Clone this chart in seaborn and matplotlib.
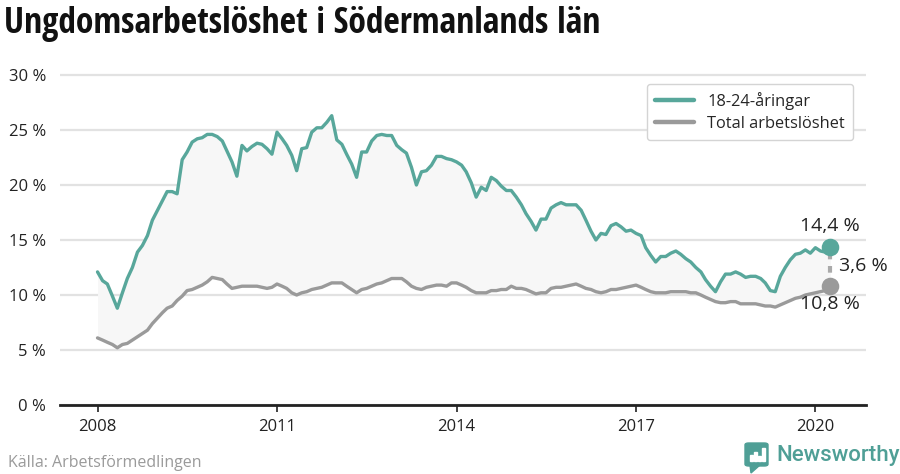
import pandas as pd
import matplotlib.pyplot as plt
import matplotlib.ticker as mticker
from matplotlib import font_manager
from matplotlib.patches import FancyBboxPatch, Polygon, Rectangle
import seaborn as sns

# ── Data (monthly, Jan 2008 - Apr 2020) ──────────────────────────────────
months = pd.date_range('2008-01-01', periods=148, freq='MS')

youth = [12.1, 11.3, 11.0, 9.9, 8.8, 10.2, 11.5, 12.5, 13.9, 14.5, 15.4, 16.8,
         17.7, 18.6, 19.4, 19.4, 19.2, 22.3, 23.0, 23.9, 24.2, 24.3, 24.6, 24.6,
         24.4, 24.0, 23.1, 22.1, 20.8, 23.6, 23.1, 23.5, 23.8, 23.7, 23.3, 22.8,
         24.8, 24.2, 23.6, 22.7, 21.3, 23.3, 23.4, 24.8, 25.2, 25.2, 25.7, 26.3,
         24.1, 23.7, 22.8, 21.9, 20.7, 23.0, 23.0, 24.0, 24.5, 24.6, 24.5, 24.5,
         23.6, 23.2, 22.9, 21.6, 20.0, 21.2, 21.3, 21.8, 22.6, 22.6, 22.4, 22.3,
         22.1, 21.8, 21.2, 20.2, 18.9, 19.8, 19.5, 20.7, 20.4, 19.9, 19.5, 19.5,
         18.9, 18.2, 17.4, 16.7, 15.9, 16.9, 16.9, 17.9, 18.2, 18.4, 18.2, 18.2,
         18.2, 17.7, 16.8, 15.8, 15.0, 15.6, 15.5, 16.3, 16.5, 16.2, 15.8, 15.9,
         15.6, 15.4, 14.3, 13.6, 13.0, 13.5, 13.5, 13.8, 14.0, 13.7, 13.3, 13.0,
         12.5, 12.1, 11.4, 10.8, 10.3, 11.2, 11.9, 11.9, 12.1, 11.9, 11.6, 11.7,
         11.7, 11.5, 11.1, 10.4, 10.3, 11.7, 12.5, 13.2, 13.7, 13.8, 14.1, 13.8,
         14.3, 14.0, 13.9, 14.4]

total = [6.1, 5.9, 5.7, 5.5, 5.2, 5.5, 5.6, 5.9, 6.2, 6.5, 6.8, 7.4,
         7.9, 8.4, 8.8, 9.0, 9.5, 9.9, 10.4, 10.5, 10.7, 10.9, 11.2, 11.6,
         11.5, 11.4, 11.0, 10.6, 10.7, 10.8, 10.8, 10.8, 10.8, 10.7, 10.6, 10.7,
         11.0, 10.8, 10.6, 10.2, 10.0, 10.2, 10.3, 10.5, 10.6, 10.7, 10.9, 11.1,
         11.1, 11.1, 10.8, 10.5, 10.2, 10.5, 10.6, 10.8, 11.0, 11.1, 11.3, 11.5,
         11.5, 11.5, 11.2, 10.8, 10.6, 10.5, 10.7, 10.8, 10.9, 10.9, 10.8, 11.1,
         11.1, 10.9, 10.7, 10.4, 10.2, 10.2, 10.2, 10.4, 10.4, 10.5, 10.5, 10.8,
         10.6, 10.6, 10.5, 10.3, 10.1, 10.2, 10.2, 10.6, 10.7, 10.7, 10.8, 10.9,
         11.0, 10.8, 10.6, 10.5, 10.3, 10.2, 10.3, 10.5, 10.5, 10.6, 10.7, 10.8,
         10.9, 10.7, 10.5, 10.3, 10.2, 10.2, 10.2, 10.3, 10.3, 10.3, 10.3, 10.2,
         10.2, 10.0, 9.8, 9.6, 9.4, 9.3, 9.3, 9.4, 9.4, 9.2, 9.2, 9.2,
         9.2, 9.1, 9.0, 9.0, 8.9, 9.1, 9.3, 9.5, 9.7, 9.8, 10.0, 10.1,
         10.2, 10.3, 10.4, 10.8]

series_names = ['18-24-åringar', 'Total arbetslöshet']
year_ticks = [2008, 2011, 2014, 2017, 2020]
y_ticks = [0, 5, 10, 15, 20, 25, 30]

GREEN = '#58a79b'
GREY = '#9a9a9a'
W, H = 900, 474

sns.set_theme(style='white')
plt.rcParams['font.family'] = ['Open Sans', 'DejaVu Sans']

installed = {f.name for f in font_manager.fontManager.ttflist}
title_font = next((f for f in ['Liberation Sans Narrow', 'Open Sans Condensed',
                               'Roboto Condensed', 'DejaVu Sans Condensed']
                   if f in installed), 'DejaVu Sans')

df = pd.DataFrame({'Månad': months, series_names[0]: youth, series_names[1]: total})
long = df.melt('Månad', var_name='Grupp', value_name='Andel')


def fx(x):
    return x / W


def fy(y):
    return 1 - y / H


# ── Figure ───────────────────────────────────────────────────────────────
fig = plt.figure(figsize=(9, 4.74), dpi=100)
ax = fig.add_axes([fx(60), fy(405), (866 - 60) / W, (405 - 71.7) / H])

ax.fill_between(df['Månad'], df[series_names[1]], df[series_names[0]],
                color='#f7f7f7', linewidth=0, zorder=1)
sns.lineplot(data=long, x='Månad', y='Andel', hue='Grupp', palette=[GREEN, GREY],
             linewidth=2.4, ax=ax, zorder=3)

ax.set_xlim(pd.Timestamp('2007-05-17'), pd.Timestamp('2020-11-05'))
ax.set_ylim(0, 30.3)
ax.set_xlabel('')
ax.set_ylabel('')

ax.set_yticks(y_ticks)
ax.yaxis.set_major_formatter(mticker.FuncFormatter(lambda v, _: f'{v:.0f} %'))
ax.set_xticks([pd.Timestamp(f'{y}-01-01') for y in year_ticks])
ax.set_xticklabels([str(y) for y in year_ticks])
ax.tick_params(axis='y', length=0, pad=10, labelsize=12, labelcolor='#222222')
ax.tick_params(axis='x', length=5, width=1.2, color='#222222', pad=5,
               labelsize=12, labelcolor='#222222', bottom=True)

ax.yaxis.grid(True, color='#e2e2e2', linewidth=1.6)
ax.set_axisbelow(True)
for side in ['top', 'right', 'left']:
    ax.spines[side].set_visible(False)
ax.spines['bottom'].set_color('#222222')
ax.spines['bottom'].set_linewidth(2)
ax.spines['bottom'].set_zorder(6)

# Legend
handles, labels = ax.get_legend_handles_labels()
leg = ax.legend(handles, labels, loc='upper right', bbox_to_anchor=(0.984, 0.963),
                borderaxespad=0, fontsize=11.8, frameon=True, fancybox=True,
                handlelength=2.4, edgecolor='#d4d4d4', framealpha=1,
                borderpad=0.5, labelspacing=0.35)
for line in leg.get_lines():
    line.set_linewidth(3.2)

# Last value markers
last_x = months[-1]
ax.plot([last_x, last_x], [total[-1], youth[-1]], color='#aaaaaa', lw=3,
        ls=(0, (1.6, 1.6)), zorder=4)
ax.scatter([last_x], [youth[-1]], s=160, color=GREEN, zorder=5, linewidths=0)
ax.scatter([last_x], [total[-1]], s=160, color=GREY, zorder=5, linewidths=0)


def pct(v):
    return f'{v:.1f} %'.replace('.', ',')


ax.annotate(pct(youth[-1]), (last_x, youth[-1]), xytext=(0, 15), textcoords='offset points',
            ha='center', va='center', fontsize=14, color='#222222')
ax.annotate(pct(total[-1]), (last_x, total[-1]), xytext=(0, -12.5), textcoords='offset points',
            ha='center', va='center', fontsize=14, color='#222222')
ax.annotate(pct(youth[-1] - total[-1]), (last_x, (youth[-1] + total[-1]) / 2), xytext=(6, 0),
            textcoords='offset points', ha='left', va='center', fontsize=14, color='#222222')

# Title, fitted to the reference width
title = fig.text(fx(4), fy(6), 'Ungdomsarbetslöshet i Södermanlands län', ha='left', va='top',
                 fontsize=23, fontweight='bold', family=title_font, color='#111111')
renderer = fig.canvas.get_renderer()
tw = title.get_window_extent(renderer).width
title.set_fontsize(23 * 598 / tw)

# Source
fig.text(fx(8), fy(463), 'Källa: Arbetsförmedlingen', ha='left', va='center',
         fontsize=11.5, color='#9a9a9a')

# Newsworthy logo
LOGO = '#4f9f96'
fig.patches.append(FancyBboxPatch((fx(745), fy(466)), 23 / W, 23 / H,
                                  boxstyle='round,pad=0,rounding_size=0.004',
                                  transform=fig.transFigure, color=LOGO))
fig.patches.append(Polygon([(fx(750), fy(465)), (fx(760), fy(465)), (fx(751), fy(473))],
                           closed=True, transform=fig.transFigure, color=LOGO))
for bx, bh in [(750, 6), (754, 9), (758, 5), (762, 13)]:
    fig.patches.append(Rectangle((fx(bx), fy(461)), 2.5 / W, bh / H,
                                 transform=fig.transFigure, color='white'))
fig.text(fx(776), fy(456), 'Newsworthy', ha='left', va='center', fontsize=16,
         color=LOGO, family=['Roboto', 'DejaVu Sans'], fontweight='medium')

plt.savefig('out.png', dpi=100)
plt.close()
